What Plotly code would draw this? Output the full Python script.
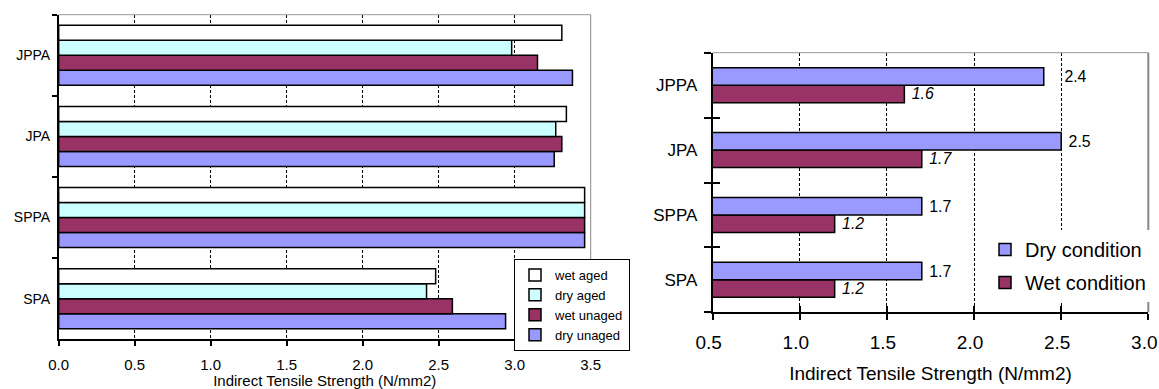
import plotly.graph_objects as go

# Mixes tested
mixes = ["SPA", "SPPA", "JPA", "JPPA"]

# Left panel: ITS of aged / unaged specimens (N/mm2)
dry_unaged = [2.94, 3.46, 3.26, 3.38]
wet_unaged = [2.59, 3.46, 3.31, 3.15]
dry_aged = [2.42, 3.46, 3.27, 2.98]
wet_aged = [2.48, 3.46, 3.34, 3.31]

# Right panel: ITS in dry and wet condition (N/mm2)
dry_condition = [1.7, 1.7, 2.5, 2.4]
wet_condition = [1.2, 1.2, 1.7, 1.6]

# number of leading spaces before each data label (keeps "2.4" clear of the 2.5 gridline)
dry_label_pad = [1, 1, 1, 4]
wet_label_pad = [1, 1, 1, 1]

FONT = "Arial, Liberation Sans, sans-serif"
W, H = 1159, 389

PURPLE = "#9999FF"
MAROON = "#993366"
CYAN = "#CCFFFF"
WHITE = "#FFFFFF"

fig = go.Figure()

# ---- left panel: four bars per mix, bottom to top ----
left_series = [
    ("dry unaged", dry_unaged, PURPLE),
    ("wet unaged", wet_unaged, MAROON),
    ("dry aged", dry_aged, CYAN),
    ("wet aged", wet_aged, WHITE),
]
bw_left = 0.185
for i, (name, vals, col) in enumerate(left_series):
    fig.add_trace(go.Bar(
        y=mixes, x=vals, name=name, orientation="h",
        xaxis="x", yaxis="y", legend="legend", legendrank=len(left_series) - i,
        width=bw_left, offset=(i - len(left_series) / 2) * bw_left,
        marker=dict(color=col, line=dict(color="black", width=1.5)),
    ))

# ---- right panel: dry / wet condition ----
bw_right = 0.27
right_series = [
    ("Wet condition", wet_condition, MAROON, "italic", wet_label_pad, 2),
    ("Dry condition", dry_condition, PURPLE, "normal", dry_label_pad, 1),
]
for i, (name, vals, col, style, pad, rank) in enumerate(right_series):
    fig.add_trace(go.Bar(
        y=mixes, x=vals, name=name, orientation="h",
        xaxis="x2", yaxis="y2", legend="legend2", legendgroup=name, legendrank=rank,
        width=bw_right, offset=(i - 1) * bw_right,
        marker=dict(color=col, line=dict(color="black", width=1.5)),
        texttemplate=["\u00a0" * n + "%{x:.1f}" for n in pad],
        textposition="outside",
        textfont=dict(family=FONT, size=19, color="black", style=style),
        cliponaxis=False,
    ))

L_dom = [58.7 / W, 590.7 / W]
L_ydom = [1 - 339.3 / H, 1 - 14.7 / H]
R_dom = [712.7 / W, 1148.3 / W]
R_ydom = [1 - 312.3 / H, 1 - 52.7 / H]

grid_dash = "3px,2px"

fig.update_layout(
    width=W, height=H,
    margin=dict(l=0, r=0, t=0, b=0, autoexpand=False),
    paper_bgcolor="white", plot_bgcolor="white",
    barmode="overlay",
    font=dict(family=FONT, color="black"),
    xaxis=dict(
        domain=L_dom, anchor="y", range=[0, 3.5], dtick=0.5, tickformat=".1f",
        showgrid=True, gridcolor="black", gridwidth=1, griddash=grid_dash,
        showline=True, linecolor="black", linewidth=1.5,
        ticks="outside", ticklen=5, tickcolor="black", tickwidth=1.5,
        tickfont=dict(size=15), ticklabelstandoff=6, zeroline=False, automargin=False,
        ticklabeloverflow="allow",
        title=dict(text="Indirect Tensile Strength (N/mm2)", font=dict(size=15), standoff=2),
    ),
    yaxis=dict(
        domain=L_ydom, anchor="x", type="category", categoryorder="array",
        categoryarray=mixes, range=[-0.5, 3.5], automargin=False,
        showgrid=False, showline=True, linecolor="black", linewidth=1.5,
        ticks="outside", tickson="boundaries", ticklen=5, tickcolor="black", tickwidth=1.5,
        tickfont=dict(size=14), ticklabelstandoff=4,
    ),
    xaxis2=dict(
        domain=R_dom, anchor="y2", range=[0.5, 3.0], dtick=0.5, tickformat=".1f",
        showgrid=True, gridcolor="black", gridwidth=1, griddash=grid_dash,
        showline=True, linecolor="black", linewidth=2,
        ticks="outside", ticklen=6, tickcolor="black", tickwidth=2,
        tickfont=dict(size=19), ticklabelstandoff=6, ticklabelshift=-4,
        zeroline=False, automargin=False, ticklabeloverflow="allow",
        title=dict(text="Indirect Tensile Strength (N/mm2)", font=dict(size=19), standoff=15),
    ),
    yaxis2=dict(
        domain=R_ydom, anchor="x2", type="category", categoryorder="array",
        categoryarray=mixes, range=[-0.5, 3.5], automargin=False,
        showgrid=False, showline=True, linecolor="black", linewidth=2,
        ticks="outside", tickson="boundaries", ticklen=7, tickcolor="black", tickwidth=2,
        tickfont=dict(size=17), ticklabelstandoff=10,
    ),
    # inner halves of the crossing ticks on the right panel
    xaxis3=dict(
        domain=R_dom, anchor="y2", overlaying="x2", range=[0.5, 3.0], dtick=0.5,
        showgrid=False, showline=False, zeroline=False, showticklabels=False,
        ticks="inside", ticklen=6, tickcolor="black", tickwidth=2, automargin=False,
    ),
    yaxis3=dict(
        domain=R_ydom, anchor="x2", overlaying="y2", range=[-0.5, 3.5],
        tickvals=[-0.5, 0.5, 1.5, 2.5, 3.5],
        showgrid=False, showline=False, zeroline=False, showticklabels=False,
        ticks="inside", ticklen=7, tickcolor="black", tickwidth=2, automargin=False,
    ),
    legend=dict(
        x=514 / W, y=1 - 259 / H, xanchor="left", yanchor="top",
        traceorder="normal", bgcolor="white", bordercolor="black", borderwidth=1,
        font=dict(size=13), itemwidth=30,
    ),
    legend2=dict(
        x=985 / W, y=1 - 230 / H, xanchor="left", yanchor="top",
        traceorder="grouped", tracegroupgap=4,
        bgcolor="white", borderwidth=0,
        font=dict(size=20), itemwidth=30,
    ),
    showlegend=True,
)

# gray top/right frame of each plot area
for xr, yr, wd in (("x", "y", 1), ("x2", "y2", 2)):
    fig.add_shape(type="line", xref=f"{xr} domain", yref=f"{yr} domain",
                  x0=0, x1=1, y0=1, y1=1, line=dict(color="#999999", width=1), layer="above")
    fig.add_shape(type="line", xref=f"{xr} domain", yref=f"{yr} domain",
                  x0=1, x1=1, y0=0, y1=1, line=dict(color="#888888", width=wd), layer="above")

# invisible anchors so the overlay tick axes are drawn
fig.add_trace(go.Scatter(x=[None], y=[None], xaxis="x3", yaxis="y2", showlegend=False, hoverinfo="skip"))
fig.add_trace(go.Scatter(x=[None], y=[None], xaxis="x2", yaxis="y3", showlegend=False, hoverinfo="skip"))

fig.write_html("out.html")
